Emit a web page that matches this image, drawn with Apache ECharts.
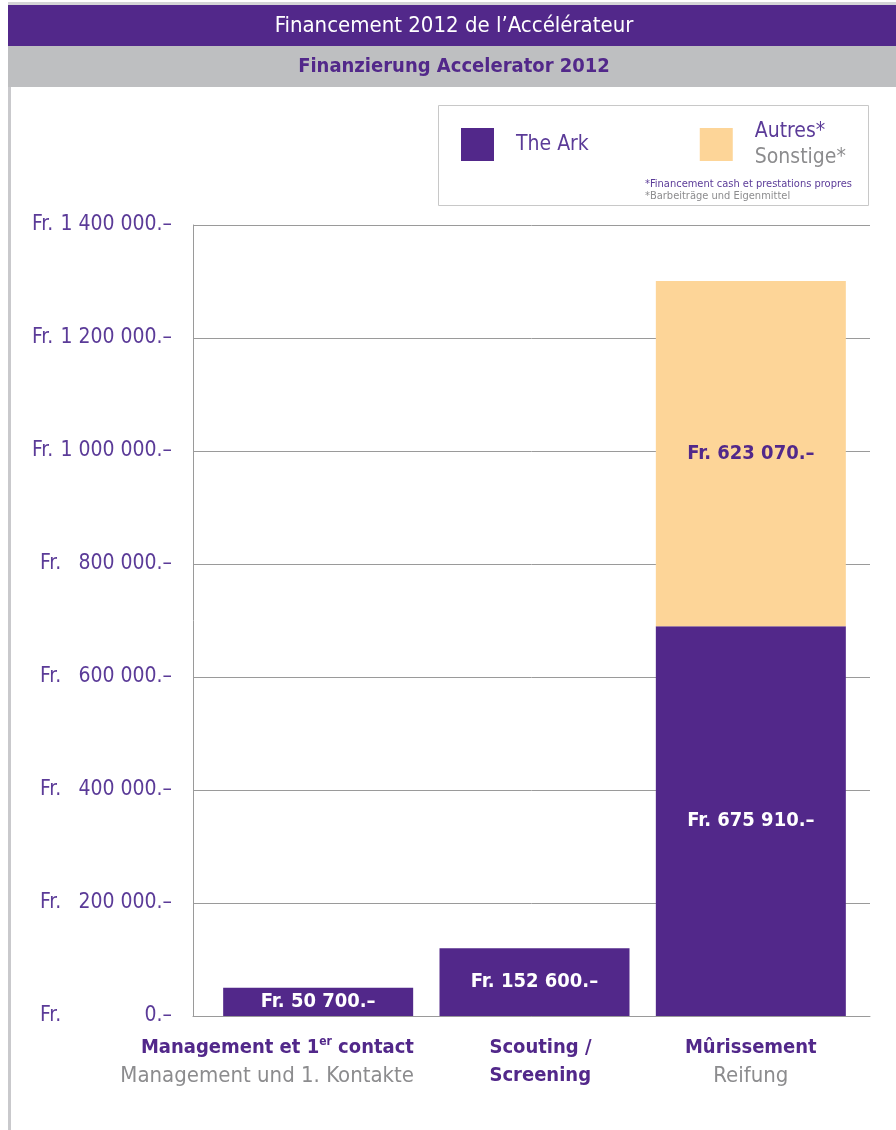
<!DOCTYPE html>
<html>
<head>
<meta charset="utf-8">
<script src="https://cdn.jsdelivr.net/npm/echarts@6/dist/echarts.min.js"></script>
<style>
html,body{margin:0;padding:0;background:#fff;}
#chart{width:896px;height:1130px;}
</style>
</head>
<body>
<div id="chart"></div>
<script>
// ---- data ----
const categories = ['Management et 1er contact', 'Scouting / Screening', 'Mûrissement'];
const categoriesDe = ['Management und 1. Kontakte', null, 'Reifung'];
const seriesNames = ['The Ark', 'Autres*'];
// bar heights as drawn in the picture
const arkValues = [50000, 120000, 690000];
const autresValues = [null, null, 611000];
// amounts printed on the bars
const arkAmounts = [50700, 152600, 675910];
const autresAmounts = [null, null, 623070];
const yTicks = [0, 200000, 400000, 600000, 800000, 1000000, 1200000, 1400000];
const titleFr = 'Financement 2012 de l\u2019Accélérateur';
const titleDe = 'Finanzierung Accelerator 2012';
const legendSubtitle = 'Sonstige*';
const footnotes = ['*Financement cash et prestations propres', '*Barbeiträge und Eigenmittel'];

// ---- styling ----
const PURPLE = '#52288a';
const PURPLE_TXT = '#5b3b98';
const ORANGE = '#fdd598';
const GRAY_TXT = '#8c8c8e';
const FONT = '"Liberation Sans Narrow", "DejaVu Sans Condensed", "Roboto", sans-serif';

function fmt(v) {
  return String(v).replace(/\B(?=(\d{3})+(?!\d))/g, ' ');
}
function amountLabel(v) { return 'Fr. ' + fmt(v) + '.\u2013'; }

const chart = echarts.init(document.getElementById('chart'), null, {renderer: 'canvas'});

const yMin = yTicks[0], yMax = yTicks[yTicks.length - 1], yInt = yTicks[1] - yTicks[0];

function catLabel(name, idx) {
  const de = categoriesDe[idx];
  if (name.indexOf('1er') >= 0) {
    const parts = name.split('1er');
    return '{pr|' + parts[0] + '1}{sup|er}{pr|' + parts[1] + '}{sp|}\n{gr|' + de + '}{sp|}';
  }
  if (name.indexOf(' / ') >= 0) {
    const parts = name.split(' / ');
    return '{sp2|}{pl|' + parts[0] + ' /}\n{sp2|}{pl|' + parts[1] + '}';
  }
  return '{p|' + name + '}' + (de ? '\n{g|' + de + '}' : '');
}

const option = {
  animation: false,
  backgroundColor: '#fff',
  textStyle: {fontFamily: FONT},
  graphic: [
    {type: 'rect', shape: {x: 8, y: 2, width: 888, height: 3}, style: {fill: '#d4d4d6'}, silent: true},
    {type: 'rect', shape: {x: 8, y: 5, width: 888, height: 41}, style: {fill: PURPLE}, silent: true},
    {type: 'rect', shape: {x: 8, y: 46, width: 888, height: 41}, style: {fill: '#bebfc1'}, silent: true},
    {type: 'rect', shape: {x: 8, y: 87, width: 3, height: 1043}, style: {fill: '#c9c9cc'}, silent: true},
    {type: 'text', x: 454, y: 26, style: {text: titleFr, fill: '#fff', font: '22px ' + FONT, align: 'center', verticalAlign: 'middle'}},
    {type: 'text', x: 454, y: 67, style: {text: titleDe, fill: PURPLE, font: 'bold 20px ' + FONT, align: 'center', verticalAlign: 'middle'}},
    {type: 'rect', shape: {x: 438.5, y: 105.5, width: 430, height: 100}, style: {fill: '#fff', stroke: '#c8c8c8', lineWidth: 1}, silent: true, z: -1},
    {type: 'text', x: 645, y: 184, style: {text: footnotes[0], fill: PURPLE_TXT, font: '11px ' + FONT, verticalAlign: 'middle'}},
    {type: 'text', x: 645, y: 196, style: {text: footnotes[1], fill: GRAY_TXT, font: '11px ' + FONT, verticalAlign: 'middle'}}
  ],
  legend: {
    left: 461, top: 121, padding: 0,
    itemWidth: 33, itemHeight: 33, itemGap: 111,
    icon: 'rect',
    data: seriesNames,
    selectedMode: false,
    formatter: function (name) {
      if (name === seriesNames[1]) return '{a|' + name + '}\n{b|' + legendSubtitle + '}';
      return '{a|' + name + '}';
    },
    textStyle: {
      padding: [0, 0, 0, 17],
      rich: {
        a: {fontSize: 21, color: PURPLE_TXT, fontFamily: FONT, lineHeight: 26},
        b: {fontSize: 21, color: GRAY_TXT, fontFamily: FONT, lineHeight: 26}
      }
    }
  },
  grid: [
    {left: 193, right: 26, top: 225, bottom: 114, containLabel: false},
    {left: 210, right: 37, top: 225, bottom: 114, containLabel: false}
  ],
  xAxis: [
    {
      gridIndex: 0, type: 'category', data: categories,
      axisLine: {show: true, lineStyle: {color: '#9a9a9a', width: 1}},
      axisTick: {show: false}, axisLabel: {show: false}, splitLine: {show: false}
    },
    {
      gridIndex: 1, type: 'category', data: categories,
      axisLine: {show: false}, axisTick: {show: false},
      axisLabel: {
        show: true, interval: 0, margin: 18,
        formatter: catLabel,
        rich: {
          p: {fontSize: 20, fontWeight: 'bold', color: PURPLE, lineHeight: 28, fontFamily: FONT},
          g: {fontSize: 22, color: GRAY_TXT, lineHeight: 28, fontFamily: FONT},
          pr: {fontSize: 20, fontWeight: 'bold', color: PURPLE, lineHeight: 28, fontFamily: FONT, align: 'right'},
          gr: {fontSize: 22, color: GRAY_TXT, lineHeight: 28, fontFamily: FONT, align: 'right'},
          pl: {fontSize: 20, fontWeight: 'bold', color: PURPLE, lineHeight: 28, fontFamily: FONT, align: 'left'},
          sup: {fontSize: 12, fontWeight: 'bold', color: PURPLE, fontFamily: FONT, align: 'right', verticalAlign: 'top', lineHeight: 28, padding: [2, 0, 0, 0]},
          sp: {width: 102, align: 'right'},
          sp2: {width: 12, align: 'left'}
        }
      }
    }
  ],
  yAxis: [
    {
      gridIndex: 0, type: 'value', min: yMin, max: yMax, interval: yInt,
      axisLine: {show: true, lineStyle: {color: '#9a9a9a', width: 1}},
      axisTick: {show: false},
      splitLine: {show: true, lineStyle: {color: '#9a9a9a', width: 1}},
      axisLabel: {
        margin: 21,
        formatter: function (v) {
          return '{' + (v >= 1000000 ? 'f1' : 'f2') + '|Fr.}{n|' + fmt(v) + '.\u2013}';
        },
        rich: {
          f1: {width: 25, align: 'left', fontSize: 21, color: PURPLE_TXT, fontFamily: FONT},
          f2: {width: 17, align: 'left', fontSize: 21, color: PURPLE_TXT, fontFamily: FONT},
          n: {width: 115, align: 'right', fontSize: 21, color: PURPLE_TXT, fontFamily: FONT}
        }
      }
    },
    {
      gridIndex: 1, type: 'value', min: yMin, max: yMax, interval: yInt,
      show: false, splitLine: {show: false}
    }
  ],
  series: [
    {
      name: seriesNames[0], type: 'bar', stack: 'total',
      xAxisIndex: 1, yAxisIndex: 1, barWidth: 190,
      itemStyle: {color: PURPLE},
      data: arkValues,
      label: {
        show: true, position: 'inside', color: '#fff', fontSize: 20, fontWeight: 'bold', fontFamily: FONT,
        formatter: function (p) { return arkAmounts[p.dataIndex] != null ? amountLabel(arkAmounts[p.dataIndex]) : ''; }
      },
      z: 3
    },
    {
      name: seriesNames[1], type: 'bar', stack: 'total',
      xAxisIndex: 1, yAxisIndex: 1, barWidth: 190,
      itemStyle: {color: ORANGE},
      data: autresValues,
      label: {
        show: true, position: 'inside', color: PURPLE, fontSize: 20, fontWeight: 'bold', fontFamily: FONT,
        formatter: function (p) { return autresAmounts[p.dataIndex] != null ? amountLabel(autresAmounts[p.dataIndex]) : ''; }
      },
      z: 3
    }
  ]
};
chart.setOption(option);
</script>
</body>
</html>
